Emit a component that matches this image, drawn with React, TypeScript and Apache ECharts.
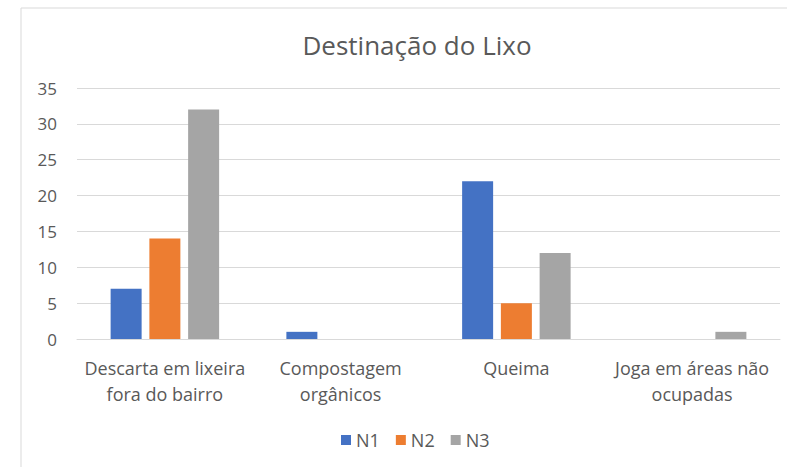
import React, { useEffect, useRef } from "react";
import * as echarts from "echarts";

const categories = [
  "Descarta em lixeira\nfora do bairro",
  "Compostagem\norgânicos",
  "Queima",
  "Joga em áreas não\nocupadas",
];
const seriesNames = ["N1", "N2", "N3"];
const n1 = [7, 1, 22, 0];
const n2 = [14, 0, 5, 0];
const n3 = [32, 0, 12, 1];
const colors = ["#4472C4", "#ED7D31", "#A5A5A5"];

export default function App() {
  const ref = useRef<HTMLDivElement>(null);
  useEffect(() => {
    if (!ref.current) return;
    const chart = echarts.init(ref.current, null, { renderer: "svg" });
    const font = "'Open Sans', 'Liberation Sans', sans-serif";
    const values = [n1, n2, n3];
    chart.setOption({
      animation: false,
      textStyle: { fontFamily: font },
      title: {
        text: "Destinação do Lixo",
        left: 412,
        textAlign: "center",
        top: 27,
        textStyle: { fontFamily: font, fontSize: 26, fontWeight: "normal", color: "#595959" },
      },
      graphic: [
        {
          type: "rect",
          shape: { x: 21, y: 8, width: 800, height: 480 },
          style: { fill: "none", stroke: "#D9D9D9", lineWidth: 1 },
          silent: true,
        },
      ],
      legend: {
        data: seriesNames,
        top: 426,
        left: 336,
        itemWidth: 10,
        itemHeight: 10,
        itemGap: 16,
        icon: "rect",
        textStyle: { fontFamily: font, fontSize: 18, color: "#595959" },
      },
      grid: { left: 77, right: 7, top: 88, bottom: 128, containLabel: false },
      xAxis: {
        type: "category",
        data: categories,
        axisLine: { lineStyle: { color: "#D9D9D9" } },
        axisTick: { show: false },
        axisLabel: {
          interval: 0,
          fontFamily: font,
          fontSize: 18,
          color: "#595959",
          lineHeight: 26,
          margin: 16,
        },
      },
      yAxis: {
        type: "value",
        min: 0,
        max: 35,
        interval: 5,
        axisLine: { show: false },
        axisTick: { show: false },
        splitLine: { lineStyle: { color: "#D9D9D9" } },
        axisLabel: { fontFamily: font, fontSize: 17, color: "#595959", margin: 20 },
      },
      series: seriesNames.map((name, i) => ({
        name,
        type: "bar",
        data: values[i],
        barWidth: 31,
        barGap: "25%",
        itemStyle: { color: colors[i] },
      })),
    });
    return () => chart.dispose();
  }, []);
  return (
    <div
      ref={ref}
      style={{ position: "fixed", left: 0, top: 0, width: 787, height: 467, background: "#fff" }}
    />
  );
}
